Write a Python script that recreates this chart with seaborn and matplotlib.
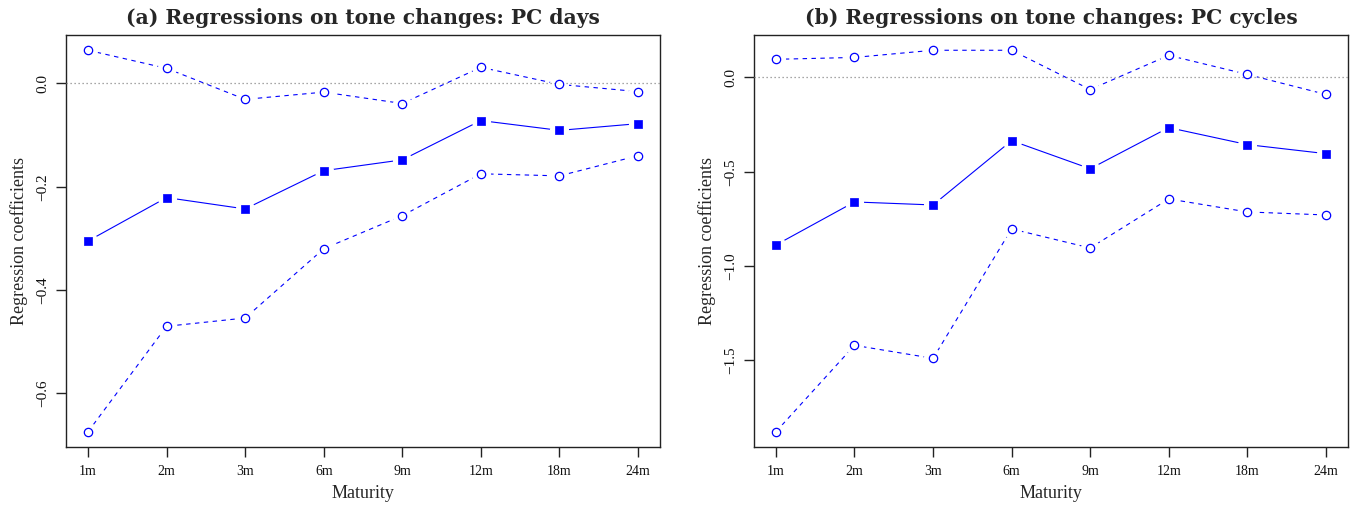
import matplotlib
matplotlib.use("Agg")
import matplotlib.pyplot as plt
import seaborn as sns
import pandas as pd

# Maturities on the horizontal axis
maturities = ["1m", "2m", "3m", "6m", "9m", "12m", "18m", "24m"]

# Panel (a): PC days -- point estimates and confidence bounds
days_coef = [-0.305, -0.221, -0.243, -0.169, -0.148, -0.072, -0.091, -0.078]
days_upper = [0.064, 0.029, -0.031, -0.017, -0.039, 0.031, -0.002, -0.016]
days_lower = [-0.674, -0.470, -0.454, -0.320, -0.256, -0.175, -0.179, -0.140]

# Panel (b): PC cycles -- point estimates and confidence bounds
cyc_coef = [-0.888, -0.660, -0.676, -0.335, -0.484, -0.266, -0.356, -0.404]
cyc_upper = [0.096, 0.106, 0.144, 0.144, -0.064, 0.117, 0.016, -0.090]
cyc_lower = [-1.878, -1.420, -1.489, -0.803, -0.904, -0.644, -0.713, -0.729]

titles = ["(a) Regressions on tone changes: PC days",
          "(b) Regressions on tone changes: PC cycles"]
yticks_a = [0.0, -0.2, -0.4, -0.6]
yticks_b = [0.0, -0.5, -1.0, -1.5]

sns.set_style("white")
plt.rcParams["font.family"] = ["Liberation Serif", "DejaVu Serif"]
plt.rcParams["axes.unicode_minus"] = True

fig = plt.figure(figsize=(13.56, 5.08), dpi=100)
ax_a = fig.add_axes([0.0487, 0.1201, 0.438, 0.811])
ax_b = fig.add_axes([0.5560, 0.1201, 0.438, 0.811])

blue = "#0000FF"


def draw_panel(ax, coef, upper, lower, yticks, title):
    df = pd.DataFrame({"maturity": maturities, "coef": coef,
                       "upper": upper, "lower": lower})

    # connecting lines (solid for the estimate, dashed for the bounds)
    for col, style in (("upper", (0, (4, 4))), ("lower", (0, (4, 4))),
                       ("coef", "-")):
        sns.lineplot(data=df, x="maturity", y=col, ax=ax, color=blue,
                     lw=0.8, linestyle=style, sort=False, zorder=2)

    # white halos leave a small gap between each line and its point
    for col in ("upper", "lower", "coef"):
        sns.scatterplot(data=df, x="maturity", y=col, ax=ax, color="white",
                        marker="o", s=190, linewidth=0, zorder=2.5)

    ax.axhline(0.0, color="#8a8a8a", lw=0.9, ls=(0, (1, 2.2)), zorder=2.7)

    for col in ("upper", "lower"):
        sns.scatterplot(data=df, x="maturity", y=col, ax=ax, marker="o",
                        s=36, facecolor="white", edgecolor=blue,
                        linewidth=0.9, zorder=3)
    sns.scatterplot(data=df, x="maturity", y="coef", ax=ax, marker="s",
                    s=38, color=blue, edgecolor=blue, linewidth=0.5,
                    zorder=4)

    lo = min(lower)
    hi = max(upper)
    pad = 0.04 * (hi - lo)
    ax.set_ylim(lo - pad, hi + pad)
    ax.set_xlim(-0.28, 7.28)

    ax.set_xticks(range(len(maturities)))
    ax.set_xticklabels(maturities, fontsize=10)
    ax.set_yticks(yticks)
    ax.set_yticklabels([f"{v:.1f}".replace("-", "\u2212") for v in yticks],
                       rotation=90, va="center", fontsize=11)
    ax.tick_params(axis="both", direction="out", length=7, width=1.0,
                   color="#222222", labelcolor="#111111")
    ax.tick_params(axis="x", pad=6)
    ax.tick_params(axis="y", pad=5)
    ax.tick_params(bottom=True, left=True)
    for s in ax.spines.values():
        s.set_visible(True)
        s.set_color("#222222")
        s.set_linewidth(1.0)

    ax.set_xlabel("Maturity", fontsize=13, labelpad=5)
    ax.set_ylabel("Regression coefficients", fontsize=13, labelpad=6)
    ax.set_title(title, fontsize=14.6, fontweight="bold",
                 family=["DejaVu Serif"], pad=8)


draw_panel(ax_a, days_coef, days_upper, days_lower, yticks_a, titles[0])
draw_panel(ax_b, cyc_coef, cyc_upper, cyc_lower, yticks_b, titles[1])

fig.savefig("out.png", dpi=100, facecolor="white")
